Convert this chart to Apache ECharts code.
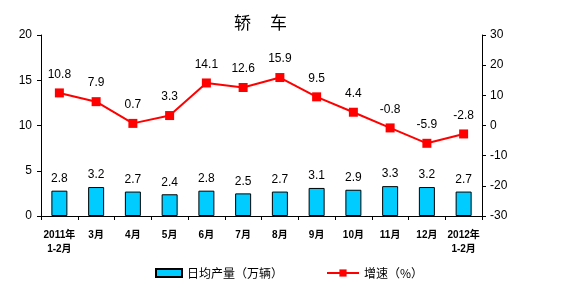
<!DOCTYPE html>
<html>
<head>
<meta charset="utf-8">
<script src="https://cdn.jsdelivr.net/npm/echarts@6/dist/echarts.min.js"></script>
<style>
  html, body { margin: 0; padding: 0; background: #fff; }
  #chart { width: 574px; height: 294px; }
</style>
</head>
<body>
<div id="chart"></div>
<script>
var categories = ["2011年\n1-2月", "3月", "4月", "5月", "6月", "7月", "8月", "9月", "10月", "11月", "12月", "2012年\n1-2月"];
var dailyOutput = [2.8, 3.2, 2.7, 2.4, 2.8, 2.5, 2.7, 3.1, 2.9, 3.3, 3.2, 2.7];
var growthRate = [10.8, 7.9, 0.7, 3.3, 14.1, 12.6, 15.9, 9.5, 4.4, -0.8, -5.9, -2.8];

var fontLatin = "Arial, 'Liberation Sans', 'Noto Sans CJK SC', sans-serif";
var fontCJK = "'Noto Sans CJK SC', sans-serif";

var chart = echarts.init(document.getElementById("chart"), null, { renderer: "canvas" });
chart.setOption({
  animation: false,
  title: {
    text: "轿     车",
    left: 229,
    top: 9,
    textStyle: { fontSize: 17, fontWeight: "normal", color: "#000", fontFamily: fontCJK }
  },
  grid: { left: 41, right: 92, top: 35, bottom: 78 },
  legend: [
    {
      left: 150,
      top: 262,
      itemWidth: 26,
      itemHeight: 8,
      itemGap: 4,
      textStyle: { fontSize: 12, color: "#000", fontFamily: fontCJK },
      data: [{ name: "日均产量（万辆）", icon: "rect" }]
    },
    {
      left: 321,
      top: 262,
      itemWidth: 32,
      itemHeight: 9,
      itemGap: 4,
      textStyle: { fontSize: 12, color: "#000", fontFamily: fontCJK },
      data: [{ name: "增速（%）" }]
    }
  ],
  xAxis: {
    type: "category",
    data: categories,
    axisLine: { lineStyle: { color: "#000", width: 1 } },
    axisTick: { show: true, length: 4, interval: 0, lineStyle: { color: "#000" } },
    axisLabel: {
      interval: 0,
      margin: 12,
      fontSize: 10,
      fontWeight: "bold",
      lineHeight: 14,
      color: "#000",
      fontFamily: fontLatin
    }
  },
  yAxis: [
    {
      type: "value",
      min: 0, max: 20, interval: 5,
      splitLine: { show: false },
      axisLine: { show: true, lineStyle: { color: "#000" } },
      axisTick: { show: true, inside: false, length: 4, lineStyle: { color: "#000" } },
      axisLabel: { fontSize: 12, color: "#000", margin: 9, fontFamily: fontLatin }
    },
    {
      type: "value",
      min: -30, max: 30, interval: 10,
      splitLine: { show: false },
      axisLine: { show: true, lineStyle: { color: "#000" } },
      axisTick: { show: true, inside: false, length: 4, lineStyle: { color: "#000" } },
      axisLabel: { fontSize: 12, color: "#000", margin: 8, fontFamily: fontLatin }
    }
  ],
  series: [
    {
      name: "日均产量（万辆）",
      type: "bar",
      yAxisIndex: 0,
      barWidth: 16,
      data: dailyOutput,
      itemStyle: { color: "#00CCFF", borderColor: "#000", borderWidth: 1 },
      label: {
        show: true,
        position: "top",
        distance: 6,
        fontSize: 12,
        color: "#000",
        fontFamily: fontLatin,
        formatter: function (p) { return p.value.toFixed(1); }
      }
    },
    {
      name: "增速（%）",
      type: "line",
      yAxisIndex: 1,
      data: growthRate,
      symbol: "rect",
      symbolSize: 9,
      lineStyle: { color: "#FF0000", width: 2 },
      itemStyle: { color: "#FF0000" },
      label: {
        show: true,
        position: "top",
        distance: 8,
        fontSize: 12,
        color: "#000",
        fontFamily: fontLatin,
        formatter: function (p) { return p.value.toFixed(1); }
      }
    }
  ]
});
</script>
</body>
</html>
